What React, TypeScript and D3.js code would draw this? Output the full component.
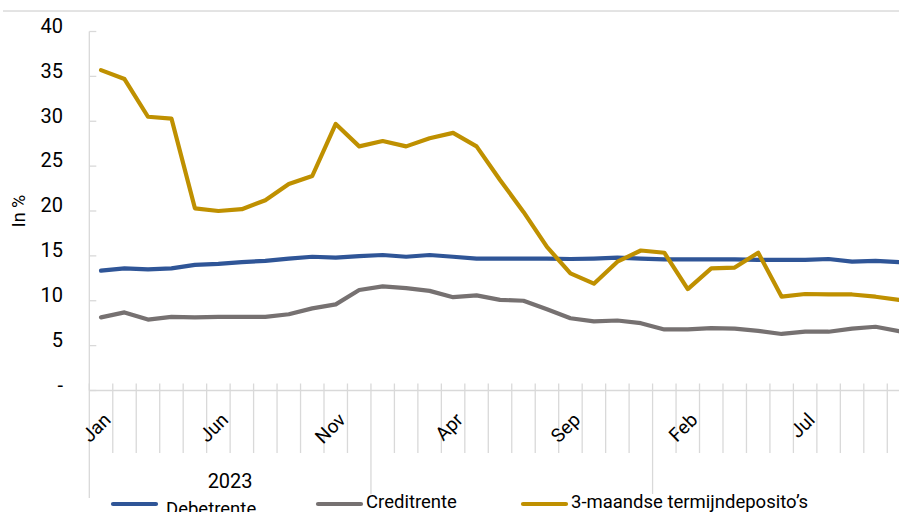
import React from "react";
import * as d3 from "d3";

const categories = [
  "Jan 2023","Feb 2023","Mar 2023","Apr 2023","May 2023","Jun 2023","Jul 2023","Aug 2023","Sep 2023","Oct 2023","Nov 2023","Dec 2023",
  "Jan 2024","Feb 2024","Mar 2024","Apr 2024","May 2024","Jun 2024","Jul 2024","Aug 2024","Sep 2024","Oct 2024","Nov 2024","Dec 2024",
  "Jan 2025","Feb 2025","Mar 2025","Apr 2025","May 2025","Jun 2025","Jul 2025","Aug 2025","Sep 2025","Oct 2025","Nov 2025",
];

const debetrente = [
  13.35, 13.6, 13.5, 13.6, 14.0, 14.1, 14.3, 14.45, 14.7, 14.9, 14.8, 14.98,
  15.1, 14.9, 15.1, 14.9, 14.7, 14.7, 14.7, 14.7, 14.65, 14.7, 14.8, 14.7,
  14.6, 14.6, 14.6, 14.6, 14.55, 14.55, 14.55, 14.65, 14.35, 14.45, 14.3,
];

const creditrente = [
  8.15, 8.7, 7.9, 8.2, 8.15, 8.2, 8.2, 8.2, 8.5, 9.15, 9.6, 11.2,
  11.6, 11.4, 11.1, 10.4, 10.6, 10.1, 10.0, 9.05, 8.05, 7.7, 7.8, 7.5,
  6.8, 6.8, 6.95, 6.9, 6.65, 6.3, 6.55, 6.55, 6.9, 7.1, 6.6,
];

const termijndeposito = [
  35.7, 34.7, 30.5, 30.3, 20.3, 20.0, 20.2, 21.2, 23.0, 23.9, 29.7, 27.2,
  27.8, 27.2, 28.1, 28.7, 27.2, 23.45, 19.9, 16.0, 13.05, 11.9, 14.35, 15.6,
  15.35, 11.3, 13.6, 13.7, 15.35, 10.45, 10.75, 10.7, 10.7, 10.45, 10.1,
];

const yTicks = [0, 5, 10, 15, 20, 25, 30, 35, 40];
const tickLabelEvery = 5;
const yearGroups = [
  { label: "2023", start: 0, end: 12, showLabel: true },
  { label: "2024", start: 12, end: 24, showLabel: false },
  { label: "2025", start: 24, end: 36, showLabel: false },
];

const seriesNames = ["Debetrente", "Creditrente", "3-maandse termijndeposito\u2019s"];
const seriesColors = ["#2F5597", "#767171", "#BF9000"];

const W = 899;
const H = 512;
const FONT = "Roboto, sans-serif";

export default function App() {
  const left = 89.3;
  const step = 23.47;
  const x = d3
    .scaleBand<number>()
    .domain(d3.range(categories.length))
    .range([left, left + categories.length * step])
    .paddingInner(0)
    .paddingOuter(0);
  const cx = (i: number) => (x(i) as number) + x.bandwidth() / 2;
  const y = d3.scaleLinear().domain([0, 40]).range([390.5, 31.5]);

  const line = d3
    .line<number>()
    .x((_, i) => cx(i))
    .y((v) => y(v));

  const series = [debetrente, creditrente, termijndeposito];
  const axisColor = "#D9D9D9";
  const y0 = y(0);

  const boundaries = d3.range(categories.length + 1);
  const yearBoundaries = new Set(yearGroups.map((g) => g.start));

  const legendItems = [
    { lx: 113, ly: 504, tx: 166, ty: 515 },
    { lx: 318, ly: 504, tx: 366, ty: 508 },
    { lx: 523, ly: 504, tx: 571, ty: 508 },
  ];

  return (
    <svg
      width={W}
      height={H}
      style={{ position: "absolute", left: 0, top: 0, background: "#fff" }}
      fontFamily={FONT}
    >
      <rect x={0} y={0} width={W} height={H} fill="#fff" />
      <line x1={3} x2={W} y1={11} y2={11} stroke="#C8C8C8" strokeWidth={1} />

      {/* y axis */}
      <line x1={left} x2={left} y1={y(40)} y2={y0} stroke={axisColor} strokeWidth={1.3} />
      {yTicks.map((t) => (
        <g key={t}>
          <line x1={left} x2={left + 7} y1={y(t)} y2={y(t)} stroke={axisColor} strokeWidth={1.3} />
          <text
            x={63}
            y={y(t) - 4}
            textAnchor="end"
            dominantBaseline="middle"
            fontSize={20}
            fill="#000"
          >
            {t === 0 ? "-" : t}
          </text>
        </g>
      ))}
      <text
        transform={`translate(25, 211) rotate(-90)`}
        textAnchor="middle"
        fontSize={18}
        fill="#000"
      >
        In %
      </text>

      {/* x axis */}
      <line x1={left} x2={W} y1={y0} y2={y0} stroke={axisColor} strokeWidth={1.3} />
      {boundaries.map((b) => {
        const bx = left + b * step;
        const isYear = yearBoundaries.has(b);
        return (
          <line
            key={b}
            x1={bx}
            x2={bx}
            y1={y0 - 7}
            y2={isYear ? (b === 0 ? 498 : 494) : 453}
            stroke={axisColor}
            strokeWidth={1.3}
          />
        );
      })}
      {categories.map((c, i) =>
        i % tickLabelEvery === 0 ? (
          <text
            key={c}
            transform={`translate(${cx(i) + 11}, 421) rotate(-45)`}
            textAnchor="end"
            fontSize={19}
            fill="#000"
          >
            {c.split(" ")[0]}
          </text>
        ) : null
      )}
      {yearGroups
        .filter((g) => g.showLabel)
        .map((g) => (
          <text
            key={g.label}
            x={(left + g.start * step + left + g.end * step) / 2}
            y={488}
            textAnchor="middle"
            fontSize={20}
            fill="#000"
          >
            {g.label}
          </text>
        ))}

      {/* lines */}
      {series.map((s, k) => (
        <path
          key={k}
          d={line(s) || ""}
          fill="none"
          stroke={seriesColors[k]}
          strokeWidth={4.2}
          strokeLinejoin="round"
          strokeLinecap="round"
        />
      ))}

      {/* legend */}
      {seriesNames.map((n, k) => (
        <g key={n}>
          <line
            x1={legendItems[k].lx}
            x2={legendItems[k].lx + 43}
            y1={legendItems[k].ly}
            y2={legendItems[k].ly}
            stroke={seriesColors[k]}
            strokeWidth={4.2}
            strokeLinecap="round"
          />
          <text x={legendItems[k].tx} y={legendItems[k].ty} fontSize={18.5} fill="#000">
            {n}
          </text>
        </g>
      ))}
    </svg>
  );
}
